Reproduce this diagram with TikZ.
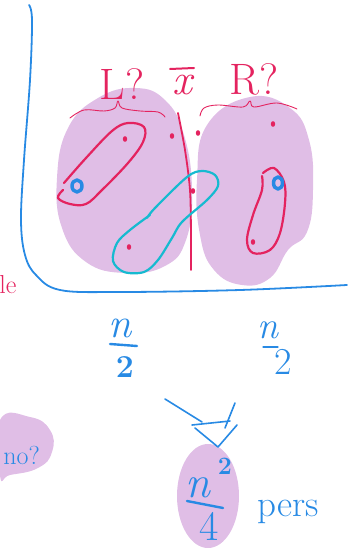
\documentclass[tikz,border=0pt]{standalone}
\usepackage{fontspec}
\setmainfont{Latin Modern Roman}
\definecolor{lav}{RGB}{224,190,230}
\definecolor{pen}{RGB}{228,35,95}
\definecolor{ink}{RGB}{40,138,228}
\definecolor{tealpen}{RGB}{22,186,208}
\newcommand{\fsz}[1]{\fontsize{#1}{#1}\selectfont}
\begin{document}
\begin{tikzpicture}[x=1pt,y=-1pt,line cap=round,line join=round,
  redpen/.style={draw=pen,line width=2.2pt},
  thinred/.style={draw=pen,line width=0.9pt},
  bluepen/.style={draw=ink,line width=1.6pt},
  lbl/.style={inner sep=0pt,text=pen},
  blbl/.style={inner sep=0pt,text=ink}]
\useasboundingbox (0,0) rectangle (349,548);
% blobs
\fill[lav] plot[smooth cycle,tension=0.75] coordinates {(135,88) (165,100) (184,135) (192,190) (186,240) (165,266) (125,273) (86,262) (62,228) (57,178) (68,128) (98,98)};
\fill[lav] plot[smooth cycle,tension=0.75] coordinates {(250,97) (290,108) (309,140) (313,190) (307,232) (288,250) (270,278) (242,285) (214,270) (200,235) (197,180) (207,125)};
\fill[lav] (208,496) ellipse [x radius=31, y radius=52];
\fill[lav] plot[smooth cycle,tension=0.8] coordinates {(0,420) (30,417) (50,430) (52,452) (38,468) (10,475) (0,476)};
% axis
\draw[ink,line width=1.8pt] plot[smooth,tension=0.6] coordinates {(29,5) (32,20) (30,80) (24,160) (21,220) (25,255) (36,275) (60,290) (120,292) (240,290) (347,285)};
% red divider
\draw[redpen,line width=1.8pt] plot[smooth] coordinates {(178,113) (185,150) (190,190) (191,235) (191,270)};
% braces
\draw[thinred] plot[smooth,tension=0.6] coordinates {(70,118) (84,110) (104,111) (115,108) (118,101) (122,108) (140,111) (158,112) (165,117)};
\draw[thinred] plot[smooth,tension=0.6] coordinates {(200,116) (204,108) (218,105) (243,107) (250,101) (254,107) (277,103) (297,109)};
% red loop left
\draw[redpen] plot[smooth,tension=0.6] coordinates {(63,190) (58,198) (70,204) (86,204) (102,190) (128,163) (143,142) (144,127) (128,123) (112,131) (86,158) (64,183)};
% cyan loop
\draw[tealpen,line width=2.2pt] plot[smooth,tension=0.55] coordinates {(147,218) (155,208) (187,177) (202,171) (215,175) (218,186) (207,200) (182,222) (172,238) (158,260) (144,272) (124,272) (113,261) (117,243) (130,230) (150,215)};
% red loop right
\draw[redpen] plot[smooth,tension=0.6] coordinates {(263,173) (274,168) (284,182) (285,203) (280,233) (270,250) (253,253) (247,240) (253,215) (262,190) (262,176)};
% blue rings
\draw[ink,line width=3.5pt,fill=lav] (77,186) ellipse [x radius=5, y radius=6];
\draw[ink,line width=3.5pt,fill=lav] (278,183) ellipse [x radius=4.5, y radius=6];
% dots
\foreach \p in {(125,139),(172,136),(198,133),(193,191),(273,124),(129,247),(253,242)}
  \fill[pen] \p ellipse [x radius=2.2, y radius=2.8];
% top labels
\node[lbl,font=\fsz{44},anchor=base] (lq) at (122,100) {L?};
\node[lbl,font=\fsz{44}\itshape,anchor=base] (xb) at (182,95) {x};
\draw[pen,line width=2pt] (170,69) -- (194,68);
\node[lbl,font=\fsz{44},anchor=base] (rq) at (254,95) {R?};
\node[lbl,font=\fsz{26},anchor=base] (le) at (8,293) {le};
% n/2 left
\node[blbl,font=\fsz{42}\itshape,anchor=base] (nl) at (120,337) {n};
\draw[ink,line width=2.4pt] (110,344) -- (137,346);
\node[blbl,font=\fsz{32}\bfseries,anchor=base] (dl) at (125,377) {2};
% n/2 right
\node[blbl,font=\fsz{38}\itshape,anchor=base] (nr) at (268,338) {n};
\draw[ink,line width=1.1pt] (263,347) -- (278,347);
\node[blbl,font=\fsz{38},anchor=base] (dr) at (283,374) {2};
% arrow strokes
\draw[bluepen] (165,399) -- (202,422);
\draw[bluepen] (192,425) -- (230,421);
\draw[bluepen] (235,403) -- (225,428);
\draw[bluepen] (195,428) -- (218,447) -- (237,425);
% n^2/4
\node[blbl,font=\fsz{45}\itshape,anchor=base] (nn) at (198,497) {n};
\node[blbl,font=\fsz{25}\bfseries,anchor=base] (sq) at (225,474) {2};
\draw[ink,line width=2.4pt] (187,501) -- (223,508);
\node[blbl,font=\fsz{42},anchor=base] (four) at (209,540) {4};
\node[blbl,font=\fsz{37},anchor=base] (pers) at (288,516) {pers};
\node[blbl,font=\fsz{26},anchor=base east] (noq) at (40,464) {no?};
\end{tikzpicture}
\end{document}
